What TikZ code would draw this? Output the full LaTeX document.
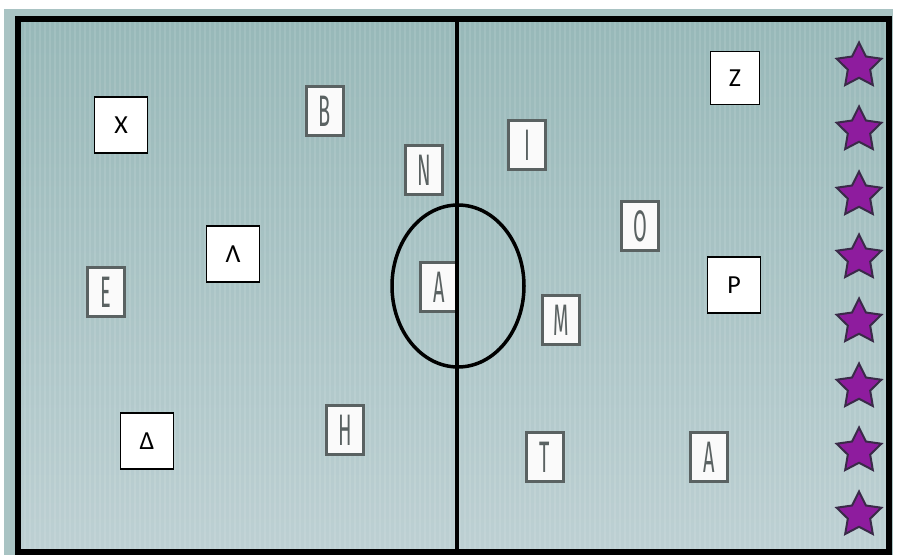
\documentclass[tikz,border=0pt]{standalone}
\usepackage{fontspec}
\usepackage{graphicx}
\usetikzlibrary{shapes.geometric}
\newfontfamily\newboxfont{Carlito}
\newfontfamily\oldboxfont{Fira Sans}
\definecolor{courttop}{HTML}{97B8B8}
\definecolor{courtbot}{HTML}{BDD0D3}
\definecolor{marginc}{HTML}{A9C3C3}
\definecolor{oldgray}{HTML}{5A6262}
\definecolor{starfill}{HTML}{8E1C9E}
\definecolor{starline}{HTML}{3A2A48}
\newcommand{\oldletter}[1]{{\oldboxfont\fontsize{21}{21}\selectfont\scalebox{0.95}[2.1]{#1}}}
\tikzset{
  oldbox/.style={draw=oldgray, line width=2.2pt, fill=white!96!gray, minimum width=37pt, minimum height=49pt, inner sep=0pt, text=oldgray},
  newbox/.style={draw=black, line width=1.6pt, fill=white, minimum width=53pt, minimum height=56pt, inner sep=0pt, font=\newboxfont\fontsize{26}{26}\selectfont},
  starshape/.style={star, star points=5, star point ratio=2.0, minimum size=47pt, inner sep=0pt, fill=starfill, draw=starline, line width=2pt},
  courtline/.style={draw=black, line width=4.5pt},
}
\begin{document}
\begin{tikzpicture}[x=1pt,y=-1pt]
\useasboundingbox (0,0) rectangle (900,559);
\fill[white] (0,0) rectangle (900,559);
\fill[marginc] (4,9) rectangle (893,555);
% court surface
\shade[top color=courttop, bottom color=courtbot] (18,19) rectangle (889,552);
\begin{scope}
  \clip (18,19) rectangle (889,552);
  \foreach \i in {0,...,175} {
    \draw[white, opacity=0.10, line width=1.6pt] (20+5*\i,19) -- (20+5*\i,552);
  }
\end{scope}
% letter boxes (original style)
\node[oldbox] (B) at (325,111) {\oldletter{B}};
\node[oldbox] (N) at (424,170) {\oldletter{N}};
\node[oldbox] (I) at (527,145) {\oldletter{I}};
\node[oldbox] (Ac) at (439,287) {\oldletter{A}};
\node[oldbox] (O) at (640,226) {\oldletter{O}};
\node[oldbox] (E) at (106,292) {\oldletter{E}};
\node[oldbox] (H) at (345,430) {\oldletter{H}};
\node[oldbox] (M) at (561,320) {\oldletter{M}};
\node[oldbox] (T) at (545,457) {\oldletter{T}};
\node[oldbox] (Ar) at (709,457) {\oldletter{A}};
% letter boxes (new style)
\node[newbox] (X) at (121,125) {X};
\node[newbox] (Lam) at (233,254) {Λ};
\node[newbox] (Del) at (147,441) {Δ};
\node[newbox, minimum width=49pt, minimum height=53pt] (Z) at (735,78) {Z};
\node[newbox] (P) at (734,285) {P};
% court lines
\draw[courtline] (457,19) -- (457,552);
\draw[draw=black, line width=3.5pt] (458,286) ellipse [x radius=66, y radius=81];
\draw[draw=black, line width=5.5pt] (18,19) rectangle (889,552);
% stars
\foreach \k/\y in {1/66,2/130,3/195,4/258,5/322,6/387,7/451,8/515} {
  \node[starshape] (s\k) at (859,\y) {};
}
\end{tikzpicture}
\end{document}
